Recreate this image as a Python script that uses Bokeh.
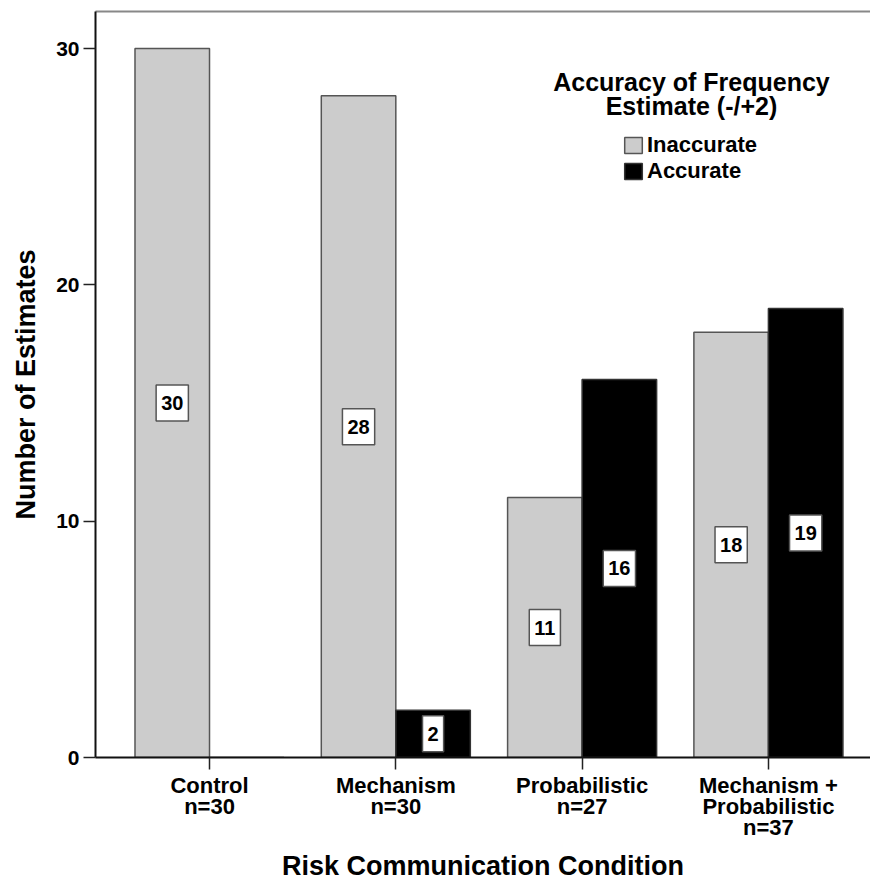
from bokeh.plotting import figure
from bokeh.models import (FixedTicker, LinearAxis, Range1d, Legend, LegendItem, Label, ColumnDataSource)
from bokeh.core.properties import value
from bokeh.embed import file_html
from bokeh.resources import INLINE

# ---- data ----
categories = ["Control", "Mechanism", "Probabilistic", "Mechanism +\nProbabilistic"]
n_counts = [30, 30, 27, 37]
inaccurate = [30, 28, 11, 18]
accurate = [0, 2, 16, 19]
series_names = ["Inaccurate", "Accurate"]
y_ticks = [0, 10, 20, 30]

FONT = "Liberation Sans"
BAR_W = 0.4

positions = [i + 1 for i in range(len(categories))]

p = figure(width=870, height=885, output_backend="svg", toolbar_location=None,
           x_range=Range1d(0.388, 4.548), y_range=Range1d(0, 31.57),
           min_border_left=95, min_border_right=0, min_border_top=11, min_border_bottom=128)
p.xgrid.visible = False
p.ygrid.visible = False
p.outline_line_color = None
p.background_fill_color = "white"
p.border_fill_color = "white"

src_in = ColumnDataSource(dict(x=[v - BAR_W / 2 for v in positions], top=inaccurate))
src_ac = ColumnDataSource(dict(x=[v + BAR_W / 2 for v in positions], top=accurate))

r_in = p.vbar(x="x", top="top", width=BAR_W, bottom=0, source=src_in,
              fill_color="#cccccc", line_color="#555555", line_width=1.5)
r_ac = p.vbar(x="x", top="top", width=BAR_W, bottom=0, source=src_ac,
              fill_color="#000000", line_color="#333333", line_width=1.5)

# value labels (boxes) at half height
lab_x, lab_y, lab_t = [], [], []
for xs, vals in ((src_in.data["x"], inaccurate), (src_ac.data["x"], accurate)):
    for xv, v in zip(xs, vals):
        if v > 0:
            lab_x.append(xv)
            lab_y.append(v / 2)
            lab_t.append(str(v))
p.text(x=lab_x, y=lab_y, text=lab_t, text_align="center", text_baseline="middle",
       text_font=value(FONT), text_font_style="bold", text_font_size="20px", text_color="black",
       background_fill_color="white", border_line_color="#555555", border_line_width=1.5,
       padding=dict(left=5, right=5, top=11, bottom=11))

# axes
p.xaxis.ticker = FixedTicker(ticks=positions)
p.xaxis.major_label_overrides = {pos: f"{c}\nn={n}" for pos, c, n in zip(positions, categories, n_counts)}
p.xaxis.axis_label = "Risk Communication Condition"
p.yaxis.ticker = FixedTicker(ticks=y_ticks)
p.yaxis.axis_label = "Number of Estimates"

for ax in (p.xaxis[0], p.yaxis[0]):
    ax.major_tick_in = 0
    ax.major_tick_out = 12
    ax.minor_tick_line_color = None
    ax.major_tick_line_color = "#222222"
    ax.major_tick_line_width = 1.5
    ax.axis_line_color = "#111111"
    ax.axis_line_width = 2
    ax.major_label_text_font = FONT
    ax.major_label_text_font_style = "bold"
    ax.major_label_text_color = "black"
    ax.axis_label_text_font = FONT
    ax.axis_label_text_font_style = "bold"
    ax.axis_label_text_font_size = "27px"
    ax.axis_label_text_color = "black"

p.xaxis.major_label_text_font_size = "22px"
p.xaxis.major_label_text_line_height = 0.85
p.xaxis.major_label_standoff = 3
p.xaxis.axis_label_standoff = 8
p.yaxis.major_label_text_font_size = "21px"
p.yaxis.major_label_standoff = 4
p.yaxis.axis_label_standoff = 12

top_axis = LinearAxis(ticker=FixedTicker(ticks=[]), axis_line_color="#888888", axis_line_width=2,
                      major_tick_line_color=None, minor_tick_line_color=None,
                      major_label_text_font_size="0px")
p.add_layout(top_axis, "above")

# legend
legend = Legend(items=[LegendItem(label=series_names[0], renderers=[r_in]),
                       LegendItem(label=series_names[1], renderers=[r_ac])],
                location=(527, 573), orientation="vertical",
                label_text_font=FONT, label_text_font_style="bold", label_text_font_size="22px",
                label_text_color="black",
                glyph_width=22, glyph_height=20, label_height=20, label_standoff=3, spacing=0,
                padding=0, margin=0, border_line_color=None, background_fill_alpha=0)
p.add_layout(legend)

title_lines = ["Accuracy of Frequency", "Estimate (-/+2)"]
for i, t in enumerate(title_lines):
    p.add_layout(Label(x=3.587, y=28.57 - i * 1.02, text=t, text_align="center", text_baseline="middle",
                       text_font=FONT, text_font_style="bold", text_font_size="25px", text_color="black"))

open("out.html", "w").write(file_html(p, INLINE))
